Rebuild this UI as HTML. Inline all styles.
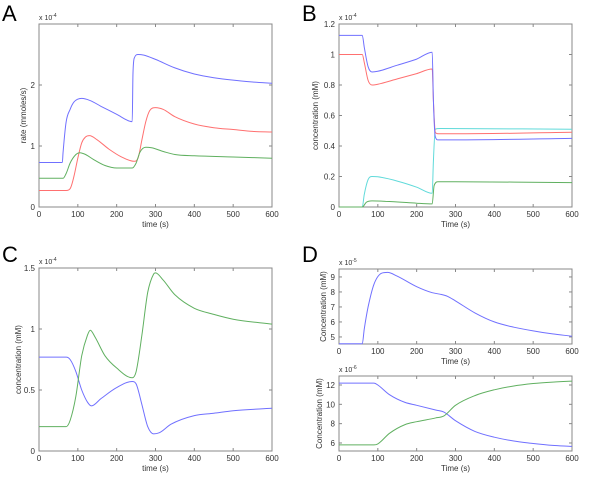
<!DOCTYPE html>
<html><head><meta charset="utf-8"><style>
body{margin:0;background:#fff;}
svg text{font-family:"Liberation Sans",sans-serif;fill:#333;}
</style></head><body>
<svg id="fig" width="600" height="476" viewBox="0 0 600 476" xmlns="http://www.w3.org/2000/svg"></svg>
<script>
const timeA=[0,60,62,70,80,90,110,130,160,200,240,242,246,255,270,300,350,400,450,500,550,600];
const aBlue=[0.73,0.73,0.9,1.4,1.6,1.72,1.78,1.75,1.65,1.52,1.40,2.2,2.45,2.5,2.49,2.42,2.28,2.18,2.12,2.08,2.05,2.03];
const timeAr=[0,70,80,90,100,110,120,130,150,180,210,245,255,265,275,285,300,320,350,400,450,500,550,600];
const aRed=[0.27,0.27,0.3,0.5,0.8,1.05,1.15,1.17,1.1,0.95,0.83,0.75,0.8,1.1,1.4,1.58,1.63,1.6,1.48,1.36,1.3,1.27,1.24,1.23];
const timeAg=[0,62,70,80,95,105,120,140,170,200,240,250,260,275,290,320,350,400,500,600];
const aGreen=[0.47,0.47,0.55,0.72,0.86,0.89,0.86,0.78,0.68,0.64,0.64,0.72,0.9,0.98,0.97,0.91,0.86,0.84,0.82,0.8];
const timeB=[0,60,65,75,85,100,150,200,240,243,248,255,300,600];
const bBlue=[1.125,1.125,1.05,0.92,0.885,0.89,0.93,0.97,1.015,0.7,0.46,0.44,0.44,0.45];
const bRed=[1.0,1.0,0.95,0.83,0.80,0.805,0.84,0.875,0.905,0.7,0.49,0.48,0.48,0.49];
const timeBc=[0,60,65,75,85,100,150,200,240,243,248,260,600];
const bCyan=[0,0,0.08,0.18,0.2,0.198,0.17,0.13,0.09,0.3,0.51,0.515,0.51];
const timeBg=[0,60,70,85,120,200,240,245,255,300,600];
const bGreen=[0,0,0.03,0.04,0.037,0.025,0.02,0.14,0.165,0.165,0.16];
const timeC=[0,70,80,95,110,125,135,160,200,240,250,265,280,295,310,340,400,450,500,600];
const cBlue=[0.77,0.77,0.75,0.65,0.5,0.4,0.37,0.43,0.52,0.57,0.55,0.38,0.2,0.14,0.15,0.22,0.29,0.31,0.33,0.35];
const timeCg=[0,70,80,95,110,125,132,145,170,200,240,250,265,280,295,300,320,350,400,450,500,600];
const cGreen=[0.2,0.2,0.25,0.45,0.78,0.95,0.99,0.93,0.78,0.68,0.6,0.65,0.95,1.3,1.45,1.46,1.4,1.28,1.17,1.12,1.08,1.04];
const timeD=[0,60,65,75,90,110,125,150,200,240,260,280,300,350,400,450,500,550,600];
const dTop=[4.55,4.55,5.5,7,8.5,9.25,9.3,9.05,8.35,7.95,7.85,7.7,7.4,6.6,6.0,5.65,5.4,5.2,5.05];
const timeD2=[0,90,100,130,170,200,250,270,300,350,400,450,500,550,600];
const dBlue=[12.2,12.2,12.0,11.0,10.2,9.9,9.4,9.2,8.3,7.2,6.6,6.2,5.95,5.75,5.65];
const dGreen=[5.8,5.8,5.9,7.0,7.9,8.2,8.6,8.8,9.9,10.9,11.5,11.9,12.15,12.3,12.4];
const xTicks=[0,100,200,300,400,500,600];

const NS="http://www.w3.org/2000/svg";
const svg=document.getElementById('fig');
function el(t,a,p){const e=document.createElementNS(NS,t);for(const k in a)e.setAttribute(k,a[k]);(p||svg).appendChild(e);return e;}
function monoPath(X,Y){
  const n=X.length;const d=[],m=new Array(n);
  for(let i=0;i<n-1;i++)d.push((Y[i+1]-Y[i])/(X[i+1]-X[i]));
  m[0]=d[0];m[n-1]=d[n-2];
  for(let i=1;i<n-1;i++){m[i]=(d[i-1]*d[i]<=0)?0:(d[i-1]+d[i])/2;}
  for(let i=0;i<n-1;i++){if(d[i]===0){m[i]=0;m[i+1]=0;continue;}
    const a=m[i]/d[i],b=m[i+1]/d[i],s=a*a+b*b;if(s>9){const t=3/Math.sqrt(s);m[i]=t*a*d[i];m[i+1]=t*b*d[i];}}
  let p='M'+X[0].toFixed(1)+','+Y[0].toFixed(1);
  for(let i=0;i<n-1;i++){const h=(X[i+1]-X[i])/3;
    p+=` C${(X[i]+h).toFixed(1)},${(Y[i]+m[i]*h).toFixed(1)} ${(X[i+1]-h).toFixed(1)},${(Y[i+1]-m[i+1]*h).toFixed(1)} ${X[i+1].toFixed(1)},${Y[i+1].toFixed(1)}`;}
  return p;
}
function panel(o){
  const g=el('g',{});
  
  
  const sx=v=>o.x0+(v-0)/600*(o.x1-o.x0);
  const sy=v=>o.y1-(v-o.ymin)/(o.ymax-o.ymin)*(o.y1-o.y0);
  const fr=el('rect',{x:o.x0,y:o.y0,width:o.x1-o.x0,height:o.y1-o.y0,fill:'none',stroke:'#888','stroke-width':1},g);
  
  
  xTicks.forEach(t=>{const x=sx(t);
    el('line',{x1:x,x2:x,y1:o.y1,y2:o.y1-3,stroke:'#888'},g);
    el('line',{x1:x,x2:x,y1:o.y0,y2:o.y0+3,stroke:'#888'},g);
    const tx=el('text',{x:x,y:o.y1+10,'font-size':8,'text-anchor':'middle'},g);tx.textContent=t;
    
    });
  o.yt.forEach((t,i)=>{const y=sy(t);
    el('line',{x1:o.x0,x2:o.x0+3,y1:y,y2:y,stroke:'#888'},g);
    el('line',{x1:o.x1,x2:o.x1-3,y1:y,y2:y,stroke:'#888'},g);
    const tx=el('text',{x:o.x0-4,y:y+3,'font-size':8,'text-anchor':'end'},g);tx.textContent=o.ytl[i];
    
    });
  const xl=el('text',{x:(o.x0+o.x1)/2,y:o.y1+20,'font-size':8,'text-anchor':'middle'},g);xl.textContent=o.xlab;
  
  
  const cy=(o.y0+o.y1)/2;
  const yl=el('text',{x:o.ylx,y:cy,'font-size':8,'text-anchor':'middle',transform:`rotate(-90 ${o.ylx} ${cy})`},g);yl.textContent=o.ylab;
  
  
  const ex=el('text',{x:o.x0,y:o.y0-4,'font-size':7},g);ex.innerHTML='x 10<tspan dy="-3" font-size="5">'+o.exp+'</tspan>';
  
  
  if(o.letter){const L=el('text',{x:o.lx,y:o.ly,'font-size':22},g);L.textContent=o.letter;L.style.fill='#000';
    
    }
  o.series.forEach(s=>{
    const X=s.t.map(sx),Y=s.v.map(sy);
    const pl=el('path',{d:monoPath(X,Y),fill:'none',stroke:s.c,'stroke-width':1,'stroke-linejoin':'round'},g);
    
    
  });
}
panel({name:'panel-a',x0:39,x1:272,y0:24,y1:207,ymin:0,ymax:3,yt:[0,1,2],ytl:['0','1','2'],xlab:'time (s)',ylab:'rate (mmoles/s)',ylx:26,exp:'-4',letter:'A',lx:2,ly:21,
 series:[{t:timeA,v:aBlue,c:'#7070ff',n:'series-blue'},{t:timeAr,v:aRed,c:'#ff7070',n:'series-red'},{t:timeAg,v:aGreen,c:'#60b060',n:'series-green'}]});
panel({name:'panel-b',x0:339,x1:572,y0:24,y1:207,ymin:0,ymax:1.2,yt:[0,0.2,0.4,0.6,0.8,1,1.2],ytl:['0','0.2','0.4','0.6','0.8','1','1.2'],xlab:'Time (s)',ylab:'concentration (mM)',ylx:318,exp:'-4',letter:'B',lx:302,ly:21,
 series:[{t:timeBc,v:bCyan,c:'#60dada',n:'series-cyan'},{t:timeBg,v:bGreen,c:'#60b060',n:'series-green'},{t:timeB,v:bRed,c:'#ff7070',n:'series-red'},{t:timeB,v:bBlue,c:'#7070ff',n:'series-blue'}]});
panel({name:'panel-c',x0:39,x1:272,y0:268,y1:451,ymin:0,ymax:1.5,yt:[0,0.5,1,1.5],ytl:['0','0.5','1','1.5'],xlab:'time (s)',ylab:'concentration (mM)',ylx:21,exp:'-4',letter:'C',lx:2,ly:262,
 series:[{t:timeC,v:cBlue,c:'#7070ff',n:'series-blue'},{t:timeCg,v:cGreen,c:'#60b060',n:'series-green'}]});
panel({name:'panel-d-top',x0:339,x1:572,y0:269,y1:344,ymin:4.53,ymax:9.53,yt:[5,6,7,8,9],ytl:['5','6','7','8','9'],xlab:'Time (s)',ylab:'Concentration (mM)',ylx:326,exp:'-5',letter:'D',lx:302,ly:262,
 series:[{t:timeD,v:dTop,c:'#7070ff',n:'series-blue'}]});
panel({name:'panel-d-bottom',x0:339,x1:572,y0:376,y1:451,ymin:5.17,ymax:12.93,yt:[6,8,10,12],ytl:['6','8','10','12'],xlab:'Time (s)',ylab:'Concentration (mM)',ylx:322,exp:'-6',
 series:[{t:timeD2,v:dBlue,c:'#7070ff',n:'series-blue'},{t:timeD2,v:dGreen,c:'#60b060',n:'series-green'}]});
</script>
</body></html>
